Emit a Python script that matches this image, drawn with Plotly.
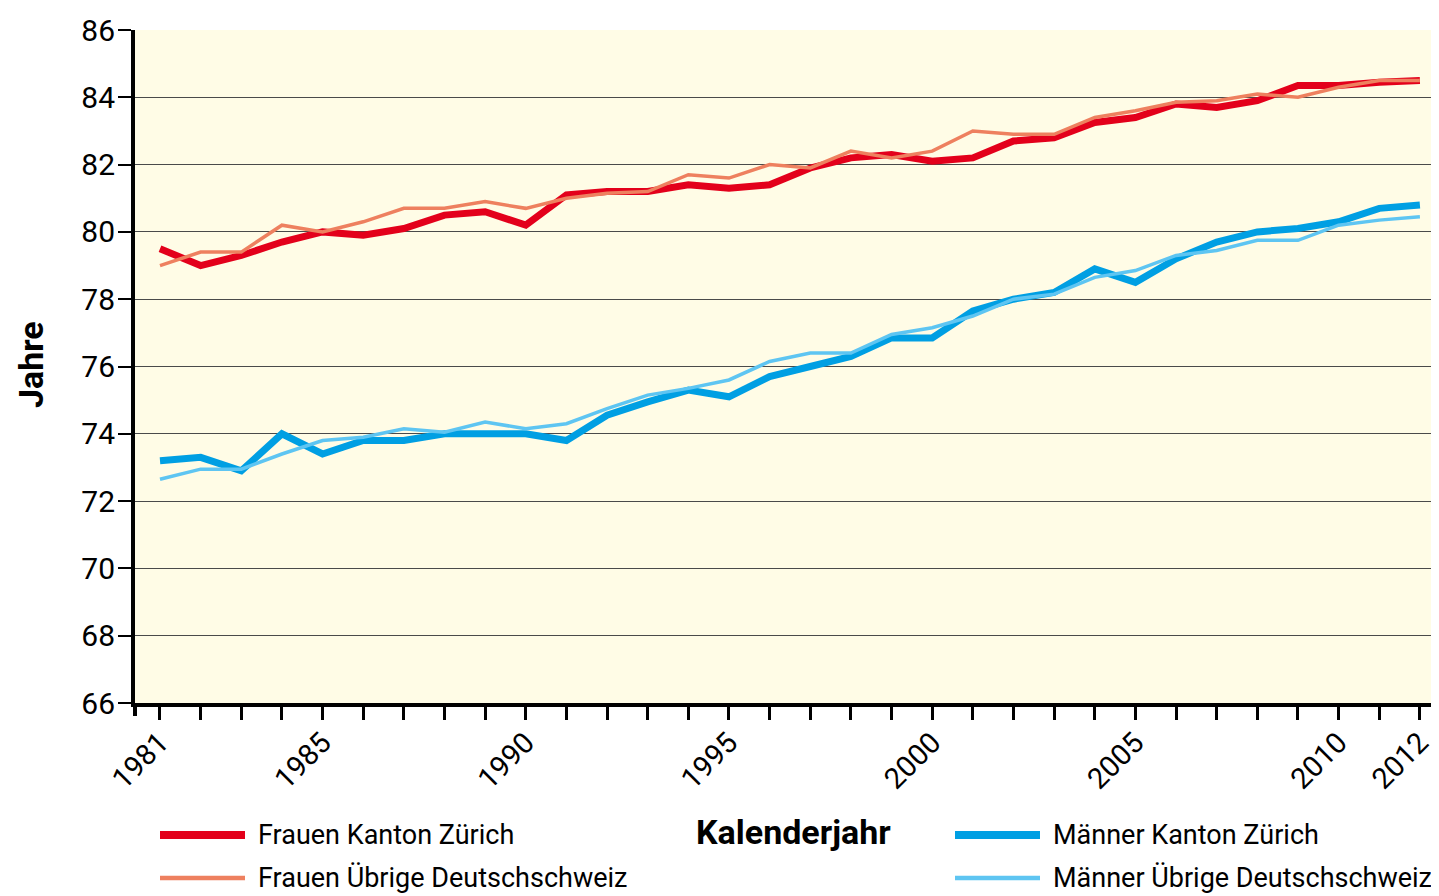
import plotly.graph_objects as go

years = list(range(1981, 2013))
frauen_zh = [79.5, 79.0, 79.3, 79.7, 80.0, 79.9, 80.1, 80.5, 80.6, 80.2,
             81.1, 81.2, 81.2, 81.4, 81.3, 81.4, 81.9, 82.2, 82.3, 82.1,
             82.2, 82.7, 82.8, 83.25, 83.4, 83.8, 83.7, 83.9, 84.35, 84.35,
             84.45, 84.5]
frauen_ud = [79.0, 79.4, 79.4, 80.2, 80.0, 80.3, 80.7, 80.7, 80.9, 80.7,
             81.0, 81.15, 81.2, 81.7, 81.6, 82.0, 81.9, 82.4, 82.2, 82.4,
             83.0, 82.9, 82.9, 83.4, 83.6, 83.85, 83.9, 84.1, 84.0, 84.3,
             84.5, 84.5]
maenner_zh = [73.2, 73.3, 72.9, 74.0, 73.4, 73.8, 73.8, 74.0, 74.0, 74.0,
              73.8, 74.55, 74.95, 75.3, 75.1, 75.7, 76.0, 76.3, 76.85, 76.85,
              77.65, 78.0, 78.2, 78.9, 78.5, 79.2, 79.7, 80.0, 80.1, 80.3,
              80.7, 80.8]
maenner_ud = [72.65, 72.95, 72.95, 73.4, 73.8, 73.9, 74.15, 74.05, 74.35, 74.15,
              74.3, 74.75, 75.15, 75.35, 75.6, 76.15, 76.4, 76.4, 76.95, 77.15,
              77.5, 78.0, 78.15, 78.65, 78.85, 79.3, 79.45, 79.75, 79.75, 80.2,
              80.35, 80.45]
labelled_years = [1981, 1985, 1990, 1995, 2000, 2005, 2010, 2012]
y_ticks = list(range(66, 87, 2))

series = [
    ("Frauen Kanton Zürich", frauen_zh, "#E3001B", 7),
    ("Frauen Übrige Deutschschweiz", frauen_ud, "#EE805F", 3.5),
    ("Männer Kanton Zürich", maenner_zh, "#009FE3", 7),
    ("Männer Übrige Deutschschweiz", maenner_ud, "#5EC5F2", 3.5),
]

FONT = "Roboto, Lato, sans-serif"

fig = go.Figure()
for name, vals, col, w in series:
    fig.add_trace(go.Scatter(x=years, y=vals, mode="lines", name=name,
                             line=dict(color=col, width=w),
                             showlegend=False))

# page offset of the figure (body margin) and target page layout
OFF = 8
W, H = 1439 - OFF, 896 - OFF
plot_left, plot_top, plot_bottom, plot_right = 135, 30, 703, 1439
ml = plot_left - OFF
mt = plot_top - OFF
mb = H - (plot_bottom - OFF)
mr = W - (plot_right - OFF)
pw, ph = W - ml - mr, H - mt - mb


def px(xp):
    return (xp - plot_left) / pw


def py(yp):
    return (plot_bottom - yp) / ph


fig.update_layout(
    width=W, height=H,
    margin=dict(l=ml, r=mr, t=mt, b=mb, autoexpand=False),
    paper_bgcolor="white",
    plot_bgcolor="#FFFCE6",
    font=dict(family=FONT, color="black", size=30),
    xaxis=dict(
        range=[1980.385, 2012.47],
        tickvals=years,
        ticktext=[str(y) if y in labelled_years else "" for y in years],
        tickangle=-45,
        ticks="outside", ticklen=13, tickwidth=3, tickcolor="black",
        ticklabelstandoff=-6,
        showgrid=False, zeroline=False,
        showline=True, linecolor="black", linewidth=4,
        tickfont=dict(size=29),
    ),
    yaxis=dict(
        range=[66, 86],
        tickvals=y_ticks,
        ticks="outside", ticklen=13, tickwidth=2, tickcolor="black",
        ticklabelstandoff=-3,
        showgrid=True, gridcolor="#4a4a4a", gridwidth=1,
        zeroline=False,
        showline=True, linecolor="black", linewidth=4,
        tickfont=dict(size=30),
    ),
)

# axis titles
fig.add_annotation(text="<b>Jahre</b>", xref="paper", yref="paper",
                   x=px(31), y=py(365), xanchor="center", yanchor="middle",
                   showarrow=False, textangle=-90,
                   font=dict(size=34, family=FONT))
fig.add_annotation(text="<b>Kalenderjahr</b>", xref="paper", yref="paper",
                   x=px(793), y=py(832), xanchor="center", yanchor="middle",
                   showarrow=False,
                   font=dict(size=34, family=FONT))

# legend (drawn manually in two columns)
leg_pos = [(160, 835), (160, 878), (955, 835), (955, 878)]
for (name, vals, col, w), (lx, ly) in zip(series, leg_pos):
    fig.add_shape(type="line", xref="paper", yref="paper",
                  x0=px(lx), x1=px(lx + 85), y0=py(ly), y1=py(ly),
                  line=dict(color=col, width=w + 1))
    fig.add_annotation(text=name, xref="paper", yref="paper",
                       x=px(lx + 96), y=py(ly), xanchor="left", yanchor="middle",
                       showarrow=False, font=dict(size=27, family=FONT))

# small extension of the y axis below the x axis
fig.add_shape(type="line", xref="paper", yref="paper",
              x0=0, x1=0, y0=0, y1=py(716), line=dict(color="black", width=4))

fig.write_html("out.html")
